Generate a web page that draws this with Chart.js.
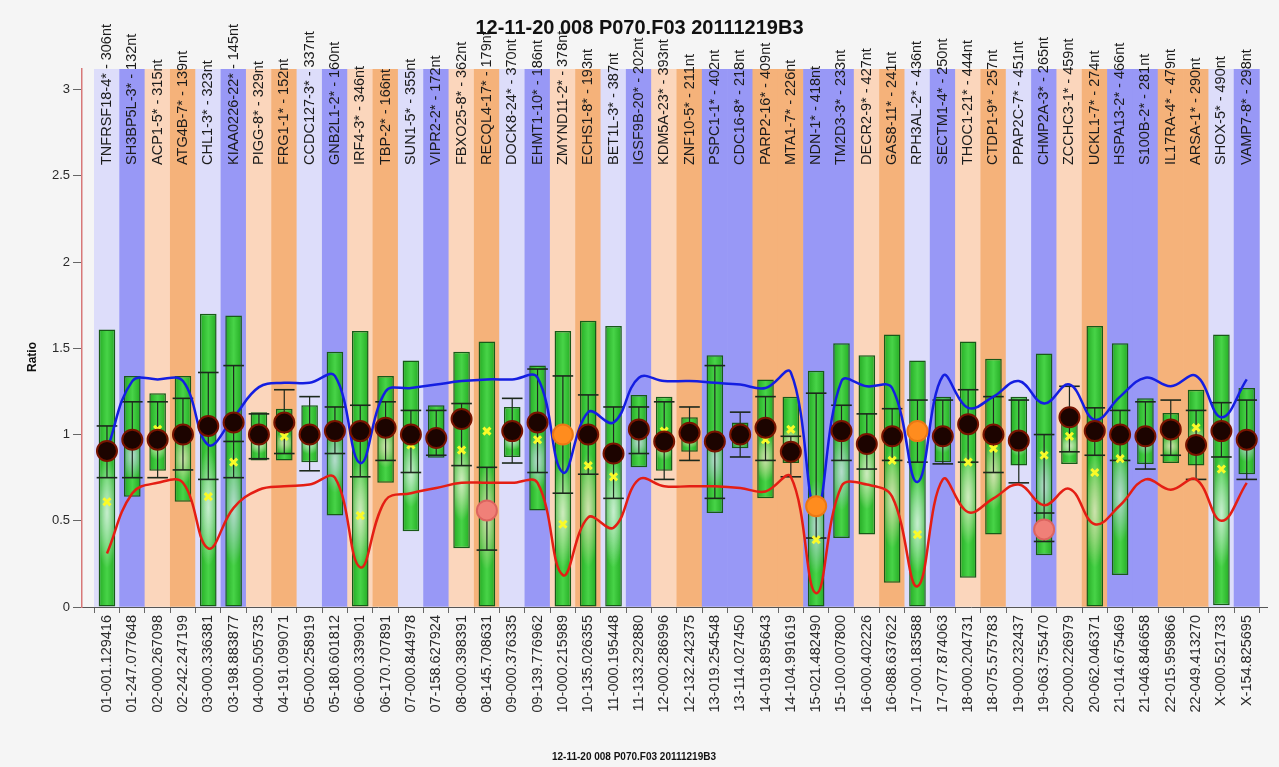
<!DOCTYPE html>
<html>
<head>
<meta charset="utf-8">
<script src="https://cdn.jsdelivr.net/npm/chart.js@4.4.1/dist/chart.umd.min.js"></script>
<style>
  html, body { margin: 0; padding: 0; background: #f5f5f5; }
  #wrap { width: 1279px; height: 767px; }
</style>
</head>
<body>
<div id="wrap"><canvas id="c" width="1279" height="767"></canvas></div>
<script>
const runTitle = '12-11-20 008 P070.F03 20111219B3';

// probe name shown above each column
const probes = [
  'TNFRSF18-4* - 306nt', 'SH3BP5L-3* - 132nt', 'ACP1-5* - 315nt', 'ATG4B-7* - 139nt',
  'CHL1-3* - 323nt', 'KIAA0226-22* - 145nt', 'PIGG-8* - 329nt', 'FRG1-1* - 152nt',
  'CCDC127-3* - 337nt', 'GNB2L1-2* - 160nt', 'IRF4-3* - 346nt', 'TBP-2* - 166nt',
  'SUN1-5* - 355nt', 'VIPR2-2* - 172nt', 'FBXO25-8* - 362nt', 'RECQL4-17* - 179nt',
  'DOCK8-24* - 370nt', 'EHMT1-10* - 186nt', 'ZMYND11-2* - 378nt', 'ECHS1-8* - 193nt',
  'BET1L-3* - 387nt', 'IGSF9B-20* - 202nt', 'KDM5A-23* - 393nt', 'ZNF10-5* - 211nt',
  'PSPC1-1* - 402nt', 'CDC16-8* - 218nt', 'PARP2-16* - 409nt', 'MTA1-7* - 226nt',
  'NDN-1* - 418nt', 'TM2D3-3* - 233nt', 'DECR2-9* - 427nt', 'GAS8-11* - 241nt',
  'RPH3AL-2* - 436nt', 'SECTM1-4* - 250nt', 'THOC1-21* - 444nt', 'CTDP1-9* - 257nt',
  'PPAP2C-7* - 451nt', 'CHMP2A-3* - 265nt', 'ZCCHC3-1* - 459nt', 'UCKL1-7* - 274nt',
  'HSPA13-2* - 466nt', 'S100B-2* - 281nt', 'IL17RA-4* - 479nt', 'ARSA-1* - 290nt',
  'SHOX-5* - 490nt', 'VAMP7-8* - 298nt'
];

// chromosome-position label under each column
const positions = [
  '01-001.129416', '01-247.077648', '02-000.267098', '02-242.247199',
  '03-000.336381', '03-198.883877', '04-000.505735', '04-191.099071',
  '05-000.258919', '05-180.601812', '06-000.339901', '06-170.707891',
  '07-000.844978', '07-158.627924', '08-000.398391', '08-145.708631',
  '09-000.376335', '09-139.776962', '10-000.215989', '10-135.026355',
  '11-000.195448', '11-133.292880', '12-000.286996', '12-132.242375',
  '13-019.254548', '13-114.027450', '14-019.895643', '14-104.991619',
  '15-021.482490', '15-100.007800', '16-000.402226', '16-088.637622',
  '17-000.183588', '17-077.874063', '18-000.204731', '18-075.575783',
  '19-000.232437', '19-063.755470', '20-000.226979', '20-062.046371',
  '21-014.675469', '21-046.846658', '22-015.959866', '22-049.413270',
  'X-000.521733', 'X-154.825695'
];

// reference range (green box)
const boxLow = [0, 0.64, 0.79, 0.61, 0, 0, 0.85, 0.85, 0.84, 0.53, 0, 0.72, 0.44, 0.865, 0.34, 0,
  0.87, 0.56, 0, 0, 0, 0.81, 0.79, 0.90, 0.545, 0.92, 0.63, 0.835, 0, 0.40, 0.42, 0.14,
  0, 0.84, 0.17, 0.42, 0.82, 0.30, 0.83, 0, 0.185, 0.83, 0.835, 0.82, 0.01, 0.77];
const boxHigh = [1.61, 1.34, 1.24, 1.34, 1.70, 1.69, 1.13, 1.15, 1.17, 1.48, 1.60, 1.34, 1.43, 1.17, 1.48, 1.54,
  1.16, 1.40, 1.60, 1.66, 1.63, 1.23, 1.22, 1.10, 1.46, 1.07, 1.32, 1.22, 1.37, 1.53, 1.46, 1.58,
  1.43, 1.22, 1.54, 1.44, 1.22, 1.47, 1.14, 1.63, 1.53, 1.21, 1.125, 1.26, 1.58, 1.27];

// error bar (whisker with caps)
const whiskerLow = [0.75, 0.75, 0.75, 0.795, 0.74, 0.75, 0.86, 0.89, 0.79, 0.89, 0.755, 0.85, 0.78, 0.88, 0.82, 0.33,
  0.835, 0.78, 0.66, 0.77, 0.63, 0.89, 0.74, 0.85, 0.63, 0.87, 0.85, 0.755, 0.40, 0.85, 0.80, 0.85,
  0.84, 0.83, 0.84, 0.78, 0.72, 0.38, 0.90, 0.88, 0.85, 0.80, 0.88, 0.74, 0.87, 0.74];
const whiskerHigh = [1.05, 1.19, 1.19, 1.21, 1.36, 1.40, 1.12, 1.26, 1.22, 1.16, 1.17, 1.19, 1.14, 1.14, 1.18, 0.81,
  1.21, 1.38, 1.34, 1.23, 1.16, 1.16, 1.19, 1.16, 1.40, 1.13, 1.22, 0.99, 1.24, 1.17, 1.12, 1.15,
  1.20, 1.20, 1.26, 1.22, 1.20, 1.00, 1.28, 1.155, 1.14, 1.19, 1.20, 1.14, 1.185, 1.20];
const middleLine = [null, null, null, null, null, 0.96, null, null, null, null, null, null, null, null, null, null,
  null, null, null, null, null, null, null, null, null, null, null, null, null, null, null, null,
  null, null, null, null, null, 0.545, null, null, null, null, null, null, null, null];

// sample ratio and its call
const sampleRatio = [0.905, 0.97, 0.97, 1.00, 1.05, 1.07, 1.00, 1.07, 1.00, 1.02, 1.02, 1.04, 1.00, 0.98, 1.09, 0.56,
  1.02, 1.07, 1.00, 1.00, 0.89, 1.03, 0.96, 1.01, 0.96, 1.00, 1.04, 0.90, 0.585, 1.02, 0.945, 0.99,
  1.02, 0.99, 1.06, 1.00, 0.965, 0.45, 1.10, 1.02, 1.00, 0.99, 1.03, 0.94, 1.02, 0.97];
const sampleCall = ['', '', '', '', '', '', '', '', '', '', '', '', '', '', '', 'loss',
  '', '', 'gain', '', '', '', '', '', '', '', '', '', 'gain', '', '', '',
  'gain', '', '', '', '', 'loss', '', '', '', '', '', '', '', ''];

// secondary ratio (yellow cross)
const crossRatio = [0.61, null, 1.03, null, 0.64, 0.84, null, 0.99, null, null, 0.53, null, 0.94, null, 0.91, 1.02,
  null, 0.97, 0.48, 0.82, 0.755, null, 1.02, null, null, null, 0.97, 1.03, 0.39, null, null, 0.85,
  0.42, null, 0.84, 0.92, null, 0.88, 0.99, 0.78, 0.86, null, null, 1.04, 0.80, null];

// threshold curves
const upperLimit = [0.91, 1.31, 1.32, 1.31, 0.94, 1.10, 1.275, 1.30, 1.30, 1.34, 0.835, 1.25, 1.27, 1.29, 1.31, 1.32,
  1.32, 1.33, 0.78, 1.13, 1.07, 1.33, 1.31, 1.31, 1.30, 1.29, 1.27, 1.36, 0.56, 1.31, 1.28, 1.27,
  0.725, 1.34, 1.155, 1.22, 1.31, 1.18, 1.29, 1.085, 1.22, 1.33, 1.28, 1.34, 1.10, 1.32];
const lowerLimit = [0.31, 0.66, 0.72, 0.72, 0.34, 0.575, 0.68, 0.70, 0.71, 0.75, 0.23, 0.62, 0.66, 0.69, 0.72, 0.72,
  0.72, 0.72, 0.185, 0.52, 0.46, 0.74, 0.70, 0.70, 0.70, 0.69, 0.67, 0.755, 0.08, 0.70, 0.71, 0.64,
  0.12, 0.74, 0.55, 0.63, 0.71, 0.59, 0.685, 0.48, 0.59, 0.74, 0.68, 0.74, 0.50, 0.72];

const yTicks = [0, 0.5, 1, 1.5, 2, 2.5, 3];
const yMax = 3.12;

const idx = positions.map((_, i) => i);
const BOX_WIDTH = 0.82;
const FONT = '"Liberation Sans", Arial, sans-serif';

// column band colour: odd chromosomes (and X) purple, even orange; pale near the p-terminus
function bandColor(i) {
  const [chr, pos] = positions[i].split('-');
  const n = chr === 'X' ? 23 : parseInt(chr, 10);
  const pale = parseFloat(pos) < 5;
  if (n % 2 === 1) return pale ? 'rgb(221,221,250)' : 'rgb(152,152,246)';
  return pale ? 'rgb(251,214,188)' : 'rgb(245,178,122)';
}

// green box with cylinder shading and a soft translucent highlight in its lower half
function boxFill(ctx) {
  const chart = ctx.chart;
  if (!chart.chartArea || ctx.type !== 'data') return 'rgb(40,185,40)';
  const i = ctx.dataIndex;
  const xs = chart.scales.x, ys = chart.scales.y;
  const w = (xs.getPixelForValue(1) - xs.getPixelForValue(0)) * BOX_WIDTH;
  const left = xs.getPixelForValue(i) - w / 2;
  const top = ys.getPixelForValue(boxHigh[i]);
  const h = Math.max(2, ys.getPixelForValue(boxLow[i]) - top);
  const off = document.createElement('canvas');
  off.width = Math.ceil(w) + 2;
  off.height = Math.ceil(h) + 2;
  const o = off.getContext('2d');
  const g = o.createLinearGradient(0, 0, w, 0);
  g.addColorStop(0, 'rgb(26,160,26)');
  g.addColorStop(0.5, 'rgb(72,212,72)');
  g.addColorStop(1, 'rgb(26,160,26)');
  o.fillStyle = g;
  o.fillRect(0, 0, off.width, off.height);
  const cy = h * 0.66, ry = Math.max(8, h * 0.2);
  o.save();
  o.translate(w / 2, cy);
  o.scale(w * 0.55, ry);
  o.globalCompositeOperation = 'destination-out';
  let r = o.createRadialGradient(0, 0, 0, 0, 0, 1);
  r.addColorStop(0, 'rgba(0,0,0,0.55)');
  r.addColorStop(1, 'rgba(0,0,0,0)');
  o.fillStyle = r;
  o.fillRect(-1, -1, 2, 2);
  o.globalCompositeOperation = 'source-over';
  r = o.createRadialGradient(0, 0, 0, 0, 0, 1);
  r.addColorStop(0, 'rgba(235,255,235,0.55)');
  r.addColorStop(1, 'rgba(200,250,200,0)');
  o.fillStyle = r;
  o.fillRect(-1, -1, 2, 2);
  o.restore();
  const p = chart.ctx.createPattern(off, 'no-repeat');
  p.setTransform(new DOMMatrix().translate(left, top));
  return p;
}

const dotFill = sampleCall.map(c => c === 'gain' ? 'rgb(255,140,30)' : c === 'loss' ? 'rgb(240,128,120)' : 'rgb(28,4,0)');
const dotEdge = sampleCall.map(c => c === 'gain' ? 'rgb(235,120,20)' : c === 'loss' ? 'rgb(220,100,95)' : 'rgb(120,20,0)');

const capPoints = [];
idx.forEach(i => {
  capPoints.push({ x: i, y: whiskerLow[i] }, { x: i, y: whiskerHigh[i] });
  if (middleLine[i] !== null) capPoints.push({ x: i, y: middleLine[i] });
});

const pageBackground = {
  id: 'pageBackground',
  beforeDraw(chart) {
    const { ctx, width, height } = chart;
    ctx.save();
    ctx.fillStyle = '#f5f5f5';
    ctx.fillRect(0, 0, width, height);
    ctx.restore();
  }
};

// probe names written up the top of each column, the y-axis caption and the run title on top
const probeLabels = {
  id: 'probeLabels',
  afterDatasetsDraw(chart) {
    const { ctx, chartArea } = chart;
    const xs = chart.scales.x;
    ctx.save();
    ctx.font = '14.5px ' + FONT;
    ctx.fillStyle = '#1c1c1c';
    ctx.textBaseline = 'middle';
    ctx.textAlign = 'left';
    probes.forEach((p, i) => {
      ctx.save();
      ctx.translate(xs.getPixelForValue(i), chartArea.top + 96);
      ctx.rotate(-Math.PI / 2);
      ctx.fillText(p, 0, 0);
      ctx.restore();
    });
    ctx.font = 'bold 20px ' + FONT;
    ctx.fillStyle = '#111';
    ctx.textAlign = 'center';
    ctx.fillText(runTitle, chart.width / 2, 28);
    ctx.font = 'bold 12px ' + FONT;
    ctx.translate(33, 357);
    ctx.rotate(-Math.PI / 2);
    ctx.fillText('Ratio', 0, 0);
    ctx.restore();
  }
};

new Chart(document.getElementById('c'), {
  type: 'bar',
  data: {
    datasets: [
      {
        type: 'line', label: 'sample', order: 0,
        data: idx.map(i => ({ x: i, y: sampleRatio[i] })),
        showLine: false, pointRadius: 10, pointBorderWidth: 2,
        pointBackgroundColor: dotFill, pointBorderColor: dotEdge
      },
      {
        type: 'line', label: 'cross', order: 1,
        data: idx.filter(i => crossRatio[i] !== null).map(i => ({ x: i, y: crossRatio[i] })),
        showLine: false, pointStyle: 'crossRot', pointRadius: 5, pointBorderWidth: 3,
        pointBorderColor: 'rgb(250,250,40)'
      },
      {
        type: 'line', label: 'upper', order: 2,
        data: idx.map(i => ({ x: i, y: upperLimit[i] })),
        borderColor: 'rgb(20,30,225)', borderWidth: 2.5, pointRadius: 0, tension: 0.4, fill: false
      },
      {
        type: 'line', label: 'lower', order: 2,
        data: idx.map(i => ({ x: i, y: lowerLimit[i] })),
        borderColor: 'rgb(228,30,20)', borderWidth: 2.5, pointRadius: 0, tension: 0.4, fill: false
      },
      {
        type: 'line', label: 'caps', order: 3,
        data: capPoints,
        showLine: false, pointStyle: 'line', pointRadius: 10.3, pointBorderWidth: 1.6,
        pointBorderColor: 'rgb(28,40,28)'
      },
      {
        label: 'whisker', order: 4, grouped: false,
        data: idx.map(i => ({ x: i, y: [whiskerLow[i], whiskerHigh[i]] })),
        backgroundColor: 'rgb(30,40,30)', barPercentage: 0.06, borderWidth: 0
      },
      {
        label: 'range', order: 5, grouped: false,
        data: idx.map(i => ({ x: i, y: [boxLow[i], boxHigh[i]] })),
        backgroundColor: boxFill, borderColor: 'rgb(24,90,24)', borderWidth: 1.5,
        borderSkipped: false, barPercentage: BOX_WIDTH
      },
      {
        label: 'bands', order: 6, grouped: false,
        data: idx.map(i => ({ x: i, y: [0, yMax] })),
        backgroundColor: idx.map(bandColor), borderWidth: 0,
        barPercentage: 1, categoryPercentage: 1
      }
    ]
  },
  options: {
    responsive: false,
    animation: false,
    events: [],
    layout: { padding: { left: 0, right: 11, top: 69, bottom: 0 } },
    plugins: {
      legend: { display: false },
      tooltip: { enabled: false },
      title: { display: false },
      subtitle: {
        display: true, position: 'bottom', text: runTitle, color: '#111',
        font: { family: FONT, size: 10, weight: 'bold' },
        padding: { top: 2, bottom: 4 }
      }
    },
    scales: {
      x: {
        type: 'linear', min: -0.986, max: 45.8, offset: false,
        afterBuildTicks: s => { s.ticks = idx.map(i => ({ value: i })); },
        afterFit: s => { s.height = 142; },
        grid: { drawOnChartArea: false, drawTicks: true, tickLength: 6, color: '#666' },
        border: { color: '#555', width: 1 },
        ticks: {
          autoSkip: false, minRotation: 90, maxRotation: 90, includeBounds: false, padding: 2,
          color: '#2a2a2a', font: { family: FONT, size: 14.5 },
          callback: v => positions[v]
        }
      },
      y: {
        type: 'linear', min: 0, max: yMax,
        afterBuildTicks: s => { s.ticks = yTicks.map(v => ({ value: v })); },
        afterFit: s => { s.width = 82; },
        grid: { drawOnChartArea: false, drawTicks: true, tickLength: 9, color: '#666' },
        border: { color: 'rgb(215,120,120)', width: 1.5 },
        ticks: {
          padding: 3, color: '#2a2a2a',
          font: { family: FONT, size: 13 },
          callback: v => String(v)
        }
      }
    }
  },
  plugins: [pageBackground, probeLabels]
});
</script>
</body>
</html>
